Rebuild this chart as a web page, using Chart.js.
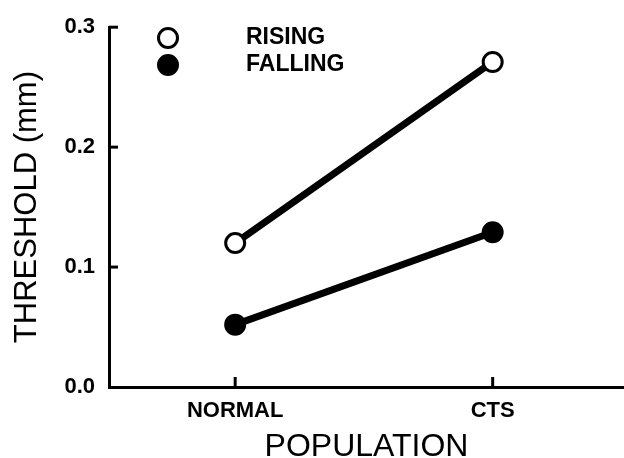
<!DOCTYPE html>
<html>
<head>
<meta charset="utf-8">
<script src="https://cdn.jsdelivr.net/npm/chart.js@4.4.1/dist/chart.umd.min.js"></script>
<style>
  html, body { margin: 0; padding: 0; background: #fff; }
  #wrap { width: 624px; height: 458px; }
</style>
</head>
<body>
<div id="wrap"><canvas id="graphic-threshold" width="624" height="458"></canvas></div>
<script>
const ctxThreshold = document.getElementById('graphic-threshold');

// data
var categories = ['NORMAL', 'CTS'];
var catPositions = [1, 2];
var rising = [0.12, 0.271];
var falling = [0.052, 0.129];
var seriesNames = ['RISING', 'FALLING'];
var yTicks = [0.0, 0.1, 0.2, 0.3];

var fontFamily = '"Liberation Sans", Arial, Helvetica, sans-serif';

function toPoints(values) {
    return values.map(function(v, i) { return { x: catPositions[i], y: v }; });
}

// ticks point into the plot, and the legend sits inside it
const insideTicks = {
    id: 'insideTicks',
    afterDraw(chart) {
        const c = chart.ctx;
        const xs = chart.scales.x;
        const ys = chart.scales.y;
        const area = chart.chartArea;
        c.save();
        c.strokeStyle = '#000';
        c.lineWidth = 3;
        yTicks.forEach(function(t) {
            if (t === 0) return;
            const py = ys.getPixelForValue(t);
            c.beginPath();
            c.moveTo(area.left, py);
            c.lineTo(area.left + 9, py);
            c.stroke();
        });
        catPositions.forEach(function(p) {
            const px = xs.getPixelForValue(p);
            c.beginPath();
            c.moveTo(px, area.bottom);
            c.lineTo(px, area.bottom - 10);
            c.stroke();
        });

        // legend
        const fills = ['#fff', '#000'];
        const rows = [38, 65];
        c.font = 'bold 23px ' + fontFamily;
        c.textBaseline = 'middle';
        c.textAlign = 'left';
        seriesNames.forEach(function(name, i) {
            c.beginPath();
            c.arc(168, rows[i], 9.5, 0, Math.PI * 2);
            c.fillStyle = fills[i];
            c.fill();
            c.lineWidth = 3;
            c.stroke();
            c.fillStyle = '#000';
            c.fillText(name, 246, rows[i]);
        });
        c.restore();
    }
};

new Chart(ctxThreshold, {
    type: 'line',
    data: {
        datasets: [{
            label: seriesNames[0],
            data: toPoints(rising),
            borderColor: '#000',
            borderWidth: 7,
            pointRadius: 9.5,
            pointBorderWidth: 3,
            pointBackgroundColor: '#fff',
            pointBorderColor: '#000'
        }, {
            label: seriesNames[1],
            data: toPoints(falling),
            borderColor: '#000',
            borderWidth: 7,
            pointRadius: 9.5,
            pointBorderWidth: 3,
            pointBackgroundColor: '#000',
            pointBorderColor: '#000'
        }]
    },
    options: {
        responsive: false,
        maintainAspectRatio: false,
        animation: false,
        layout: {
            autoPadding: false,
            padding: { top: 21, right: 0, bottom: 0, left: 0 }
        },
        scales: {
            x: {
                type: 'linear',
                min: 0.51,
                max: 2.51,
                afterBuildTicks: function(scale) {
                    scale.ticks = catPositions.map(function(p) { return { value: p }; });
                },
                afterFit: function(scale) { scale.height = 71; },
                grid: { display: false, drawTicks: false },
                border: { display: true, color: '#000', width: 3 },
                ticks: {
                    padding: 11,
                    color: '#000',
                    maxRotation: 0,
                    font: { family: fontFamily, size: 22, weight: 'bold' },
                    callback: function(value) {
                        return categories[catPositions.indexOf(value)];
                    }
                },
                title: {
                    display: true,
                    text: 'POPULATION',
                    color: '#000',
                    padding: 0,
                    font: { family: fontFamily, size: 32, lineHeight: 0.7 }
                }
            },
            y: {
                min: 0,
                max: 0.3,
                afterBuildTicks: function(scale) {
                    scale.ticks = yTicks.map(function(t) { return { value: t }; });
                },
                afterFit: function(scale) { scale.width = 109; },
                grid: { display: false, drawTicks: false },
                border: { display: true, color: '#000', width: 3 },
                ticks: {
                    padding: 14,
                    color: '#000',
                    font: { family: fontFamily, size: 22, weight: 'bold' },
                    callback: function(value) { return value.toFixed(1); }
                },
                title: {
                    display: true,
                    text: 'THRESHOLD (mm)',
                    color: '#000',
                    padding: { top: 9, bottom: 0 },
                    font: { family: fontFamily, size: 31 }
                }
            }
        },
        plugins: {
            legend: { display: false },
            tooltip: { enabled: false }
        }
    },
    plugins: [insideTicks]
});
</script>
</body>
</html>
